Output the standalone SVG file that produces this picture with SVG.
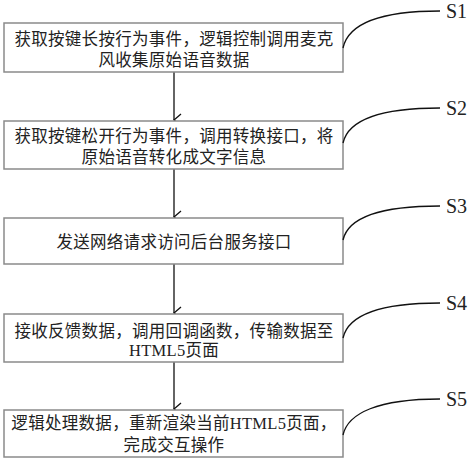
<svg xmlns="http://www.w3.org/2000/svg" width="474" height="463" viewBox="0 0 474 463">
<style>
.box{fill:#fff;stroke:#8a8a8a;stroke-width:1.5}
.t{font-family:"Liberation Serif","Noto Sans CJK SC",serif;font-size:16.5px;fill:#222;text-anchor:middle;letter-spacing:0.3px}
.lbl{font-family:"Liberation Serif",serif;font-size:20px;fill:#222}
.con{fill:none;stroke:#111;stroke-width:1.3}
.lead{fill:none;stroke:#111;stroke-width:1.3}
</style>
<defs>
<marker id="ah" markerWidth="14" markerHeight="12" refX="7" refY="9" orient="auto" markerUnits="userSpaceOnUse" viewBox="0 0 14 12">
<path d="M1,2 L7,9 L13,2" fill="none" stroke="#111" stroke-width="1.3"/>
</marker>
</defs>
<g id="connectors">
<line class="con" x1="174" y1="72" x2="174" y2="120" marker-end="url(#ah)"/>
<line class="con" x1="174" y1="169" x2="174" y2="217" marker-end="url(#ah)"/>
<line class="con" x1="174" y1="264" x2="174" y2="313" marker-end="url(#ah)"/>
<line class="con" x1="174" y1="362" x2="174" y2="409" marker-end="url(#ah)"/>
</g>
<g id="n1">
<rect class="box" x="4" y="23" width="339" height="49"/>
<text class="t" x="174" y="45">获取按键长按行为事件，逻辑控制调用麦克</text>
<text class="t" x="174" y="66">风收集原始语音数据</text>
</g>
<g id="n2">
<rect class="box" x="4" y="121" width="339" height="48"/>
<text class="t" x="174" y="142">获取按键松开行为事件，调用转换接口，将</text>
<text class="t" x="174" y="163">原始语音转化成文字信息</text>
</g>
<g id="n3">
<rect class="box" x="4" y="218" width="339" height="46"/>
<text class="t" x="174" y="248">发送网络请求访问后台服务接口</text>
</g>
<g id="n4">
<rect class="box" x="4" y="314" width="339" height="48"/>
<text class="t" x="174" y="337">接收反馈数据，调用回调函数，传输数据至</text>
<text class="t" x="174" y="356">HTML5页面</text>
</g>
<g id="n5">
<rect class="box" x="4" y="410" width="339" height="47"/>
<text class="t" x="174" y="429">逻辑处理数据，重新渲染当前HTML5页面，</text>
<text class="t" x="174" y="451">完成交互操作</text>
</g>
<g id="labels">
<path class="lead" d="M343,48 C348,25 378,11 440,11"/>
<text class="lbl" x="446" y="18">S1</text>
<path class="lead" d="M343,143 C348,121 378,108 440,108"/>
<text class="lbl" x="446" y="115">S2</text>
<path class="lead" d="M343,240 C348,218 378,206 440,206"/>
<text class="lbl" x="446" y="213">S3</text>
<path class="lead" d="M343,338 C348,316 378,303 440,303"/>
<text class="lbl" x="446" y="310">S4</text>
<path class="lead" d="M343,435 C348,413 378,399 440,399"/>
<text class="lbl" x="446" y="406">S5</text>
</g>
</svg>
